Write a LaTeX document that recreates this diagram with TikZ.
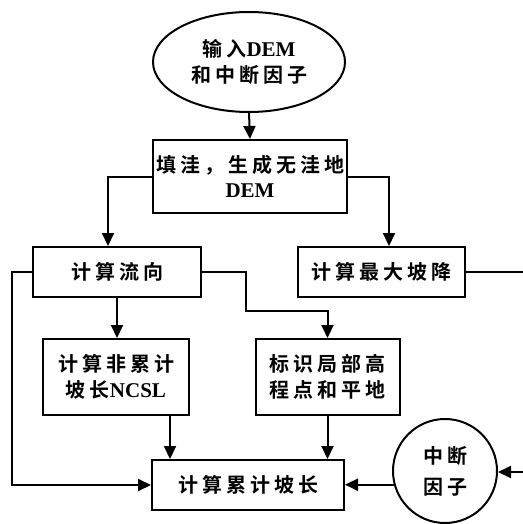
\documentclass[tikz,border=0pt]{standalone}
\usepackage{fontspec}
\setmainfont{Liberation Serif}
\newfontfamily\cjk{Noto Sans CJK SC Bold}[LetterSpace=20]
\usetikzlibrary{shapes.geometric,arrows.meta}
\newcommand{\zh}[1]{{\cjk #1}}
\newcommand{\la}[1]{{\fontsize{21}{25.5}\selectfont\bfseries #1}}
\tikzset{
  every node/.style={font=\fontsize{20}{25.5}\selectfont, align=center, inner sep=0pt},
  boxnode/.style={draw, line width=2pt, rectangle},
  conn/.style={line width=2pt},
  arr/.style={conn, -{Triangle[width=12pt,length=13pt]}},
}
\begin{document}
\begin{tikzpicture}[x=1pt,y=-1pt]
\useasboundingbox (0,0) rectangle (522,524);
\node[draw, line width=2pt, ellipse, minimum width=192pt, minimum height=100pt] (ell) at (249,62) {\zh{输入}\la{DEM}\\\zh{和中断因子}};
\node[boxnode, minimum width=194pt, minimum height=73pt] (fill) at (250,176.5) {\zh{填洼，生成无洼地}\\\la{DEM}};
\node[boxnode, minimum width=168pt, minimum height=50pt] (flow) at (117,272) {\zh{计算流向}};
\node[boxnode, minimum width=167pt, minimum height=50pt] (slope) at (381,272) {\zh{计算最大坡降}};
\node[boxnode, minimum width=146pt, minimum height=76pt] (ncsl) at (116,377) {\zh{计算非累计}\\\zh{坡长}\la{NCSL}};
\node[boxnode, minimum width=144pt, minimum height=76pt] (peak) at (327.5,377) {\zh{标识局部高}\\\zh{程点和平地}};
\node[boxnode, minimum width=192pt, minimum height=50pt] (acc) at (248,485) {\zh{计算累计坡长}};
\node[draw, line width=2pt, circle, minimum size=104pt, font=\fontsize{20}{31}\selectfont] (cut) at (445,471) {\zh{中断}\\\zh{因子}};
\coordinate (edgeA) at (524,272);
\coordinate (edgeB) at (524,472);
\draw[arr] (ell.south) -- (fill.north);
\draw[arr] (fill.west) -| ([xshift=-9pt]flow.north);
\draw[arr] (fill.east) -| ([xshift=8pt]slope.north);
\draw[conn] (slope.east) -- (edgeA);
\draw[arr] (flow.south) -- (flow.south |- ncsl.north);
\draw[arr] (flow.west) -- ++(-20,0) |- (acc.west);
\draw[arr] (flow.east) -- ++(44,0) |- ([yshift=27pt]peak.north) -- (peak.north);
\draw[arr] ([xshift=54pt]ncsl.south) -- ([xshift=54pt]ncsl.south |- acc.north);
\draw[arr] (peak.south) -- (peak.south |- acc.north);
\draw[arr] (cut.195) -- (cut.195 -| acc.east);
\draw[arr] (edgeB) -- (edgeB -| cut.east);
\end{tikzpicture}
\end{document}
